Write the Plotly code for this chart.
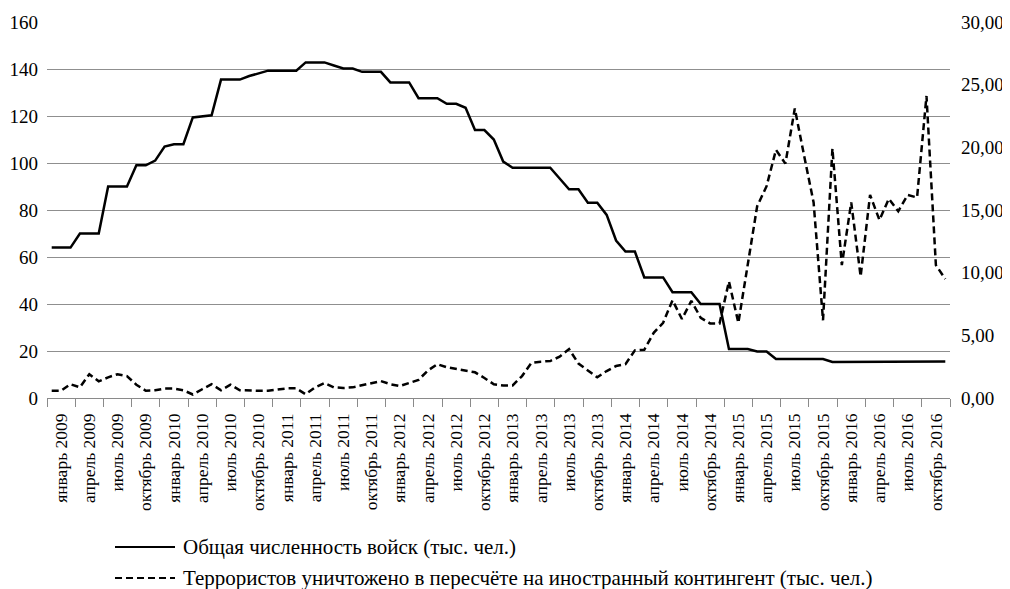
import plotly.graph_objects as go

months_ru = ["январь", "февраль", "март", "апрель", "май", "июнь",
             "июль", "август", "сентябрь", "октябрь", "ноябрь", "декабрь"]
years = list(range(2009, 2017))
categories = [f"{m} {y}" for y in years for m in months_ru]

troops = [64, 64, 64, 70, 70, 70, 90, 90, 90, 99, 99, 101,
          107, 108, 108, 119.4, 119.8, 120.3, 135.5, 135.5, 135.5, 137, 138.3, 139.3,
          139.3, 139.3, 139.3, 142.8, 142.8, 142.8, 141.5, 140.2, 140.2, 138.8, 138.8, 138.8,
          134.3, 134.3, 134.3, 127.6, 127.6, 127.6, 125.2, 125.2, 123.5, 114, 114, 110,
          100.6, 98, 98, 98, 98, 98, 93.4, 88.8, 88.8, 83.1, 83.1, 77.9,
          67, 62.3, 62.3, 51.3, 51.3, 51.3, 45, 45, 45, 40, 40, 40,
          20.8, 20.8, 20.8, 19.8, 19.8, 16.6, 16.6, 16.6, 16.6, 16.6, 16.6, 15.3,
          15.3, 15.3, 15.3, 15.3, 15.3, 15.5, 15.5, 15.5, 15.5, 15.5, 15.5, 15.5]

terrorists = [0.58, 0.58, 1.1, 0.85, 1.9, 1.33, 1.65, 1.9, 1.75, 1.06, 0.58, 0.62,
              0.75, 0.75, 0.62, 0.28, 0.7, 1.1, 0.62, 1.06, 0.62, 0.58, 0.58, 0.58,
              0.65, 0.77, 0.77, 0.3, 0.85, 1.2, 0.85, 0.8, 0.85, 1.0, 1.15, 1.35,
              1.1, 0.95, 1.2, 1.45, 2.2, 2.7, 2.45, 2.3, 2.15, 2.05, 1.6, 1.1,
              1.0, 1.0, 1.75, 2.8, 2.9, 2.95, 3.3, 3.9, 2.75, 2.2, 1.65, 2.15,
              2.55, 2.7, 3.8, 3.85, 5.2, 6.0, 7.8, 6.3, 7.75, 6.4, 5.95, 5.95,
              9.3, 6.0, 10.8, 15.3, 16.9, 19.8, 18.7, 23.1, 19.3, 15.6, 6.2, 19.9,
              10.6, 15.6, 9.7, 16.2, 14.2, 15.9, 14.9, 16.2, 16.0, 24.1, 10.6, 9.5]

series_names = ["Общая численность войск (тыс. чел.)",
                "Террористов уничтожено в пересчёте на иностранный контингент (тыс. чел.)"]

x_pos = [i + 0.5 for i in range(len(categories))]
label_idx = list(range(0, len(categories), 3))
label_pos = [i + 1.5 for i in label_idx]
label_text = [categories[i] for i in label_idx]
boundary_pos = list(range(0, len(categories) + 1, 3))

FONT = "Liberation Serif"
# the page body adds an 8px offset; size the figure so it fits the 1010x589 window
OFF = 8
W, H = 1010 - OFF, 589 - OFF
ML, MT = 47 - OFF, 22 - OFF
MR = W - (950 - OFF)
MB = H - (398 - OFF)
PW, PH = W - ML - MR, H - MT - MB
DASH = "7px,4px"
styles = [dict(color="black", width=2.5), dict(color="black", width=2.5, dash=DASH)]

fig = go.Figure()
fig.add_trace(go.Scatter(x=x_pos, y=troops, mode="lines", name=series_names[0],
                         line=styles[0], xaxis="x", yaxis="y", showlegend=False))
fig.add_trace(go.Scatter(x=x_pos, y=terrorists, mode="lines", name=series_names[1],
                         line=styles[1], xaxis="x", yaxis="y2", showlegend=False))
# invisible trace to activate the boundary-tick axis
fig.add_trace(go.Scatter(x=[0, 96], y=[None, None], xaxis="x2", yaxis="y",
                         showlegend=False, hoverinfo="skip"))


def px_x(p):
    return (p - OFF - ML) / PW


def px_y(p):
    return (H - MB - (p - OFF)) / PH


# manual legend (long line samples as in the reference)
shapes = []
annotations = []
for k, (name, st) in enumerate(zip(series_names, styles)):
    yy = px_y(547 + 31 * k)
    shapes.append(dict(type="line", xref="paper", yref="paper",
                       x0=px_x(115), x1=px_x(175), y0=yy, y1=yy,
                       line=dict(color=st["color"], width=2.2, dash=st.get("dash", "solid"))))
    annotations.append(dict(xref="paper", yref="paper", x=px_x(181), y=yy,
                            xanchor="left", yanchor="middle", showarrow=False,
                            text=name, font=dict(family=FONT, size=21, color="black")))

fig.update_layout(
    width=W, height=H,
    margin=dict(l=ML, r=MR, t=MT, b=MB, autoexpand=False),
    paper_bgcolor="white", plot_bgcolor="white",
    separators=", ",
    font=dict(family=FONT, size=19, color="black"),
    showlegend=False,
    shapes=shapes, annotations=annotations,
    xaxis=dict(range=[0, 96], tickmode="array", tickvals=label_pos, ticktext=label_text,
               tickangle=-90, ticks="", showgrid=False, zeroline=False, showline=False,
               tickfont=dict(family=FONT, size=17.5), ticklabelstandoff=11,
               automargin=False, fixedrange=True),
    xaxis2=dict(range=[0, 96], overlaying="x", side="bottom", anchor="y",
                tickmode="array", tickvals=boundary_pos, ticktext=[""] * len(boundary_pos),
                ticks="outside", ticklen=8, tickcolor="#8a8a8a", tickwidth=1,
                showline=True, linecolor="#8a8a8a", linewidth=1, showgrid=False,
                zeroline=False, showticklabels=False, automargin=False),
    yaxis=dict(range=[0, 160], dtick=20, tick0=0, showgrid=True, gridcolor="#8f8f8f",
               gridwidth=1, zeroline=False, showline=False, ticks="",
               tickfont=dict(family=FONT, size=19), ticklabelstandoff=8,
               automargin=False),
    yaxis2=dict(range=[0, 30], dtick=5, tick0=0, overlaying="y", side="right",
                showgrid=False, zeroline=False, showline=False, ticks="",
                tickformat=".2f", tickfont=dict(family=FONT, size=19),
                ticklabelstandoff=10, automargin=False),
)

fig.write_html("out.html")
